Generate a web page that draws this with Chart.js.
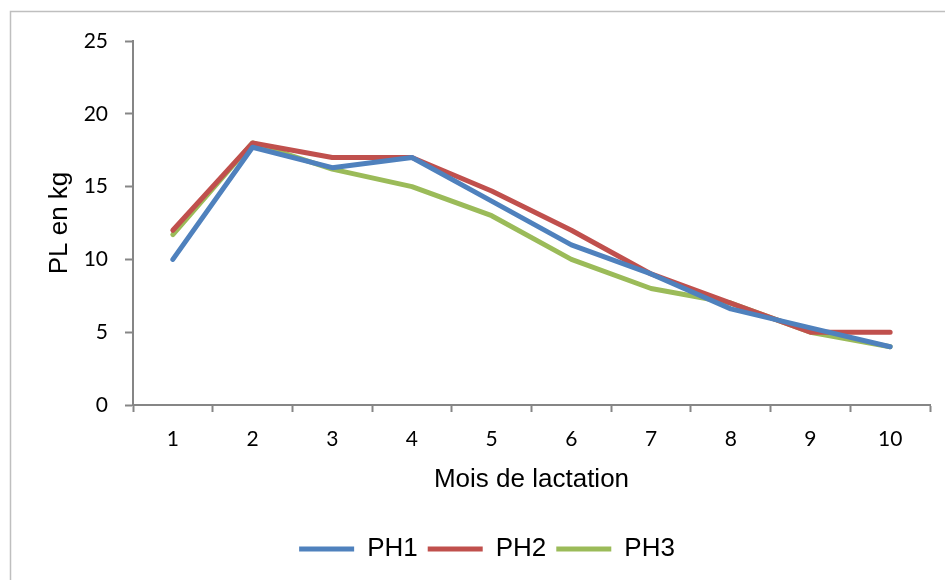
<!DOCTYPE html>
<html>
<head>
<meta charset="utf-8">
<script src="https://cdn.jsdelivr.net/npm/chart.js@4/dist/chart.umd.min.js"></script>
<style>
  html, body { margin: 0; padding: 0; background: #ffffff; }
  #wrap { width: 945px; height: 580px; position: relative; }
</style>
</head>
<body>
<div id="wrap"><canvas id="c" width="945" height="580"></canvas></div>
<script>
// Data
const categories = ['1', '2', '3', '4', '5', '6', '7', '8', '9', '10'];
const seriesNames = ['PH1', 'PH2', 'PH3'];
const ph1 = [10, 17.7, 16.3, 17, 14, 11, 9, 6.6, 5.3, 4];
const ph2 = [12, 18, 17, 17, 14.7, 12, 9, 7, 5, 5];
const ph3 = [11.7, 18, 16.2, 15, 13, 10, 8, 7, 5, 4];
const colors = ['#4F81BD', '#C0504D', '#9BBB59'];
const yMin = 0, yMax = 25, yStep = 5;

const outerBorder = {
  id: 'outerBorder',
  beforeDraw(chart) {
    const ctx = chart.ctx;
    ctx.save();
    ctx.fillStyle = '#ffffff';
    ctx.fillRect(0, 0, chart.width, chart.height);
    ctx.strokeStyle = '#bfbfbf';
    ctx.lineWidth = 1.5;
    ctx.strokeRect(10.5, 11.5, 1200, 1200);
    ctx.restore();
  }
};

// nudge the legend box to the right, as in the reference
const legendShift = {
  id: 'legendShift',
  afterLayout(chart) {
    if (chart.legend) {
      chart.legend.left += 12;
      chart.legend.right += 12;
    }
  }
};

function ds(label, data, color) {
  return {
    label: label,
    data: data,
    borderColor: color,
    backgroundColor: color,
    borderWidth: 5,
    borderCapStyle: 'round',
    borderJoinStyle: 'round',
    pointRadius: 0,
    pointHoverRadius: 0,
    tension: 0,
    fill: false
  };
}

const titleFont = { family: '"Liberation Sans", Arial, sans-serif', size: 26 };
const tickFont = { family: 'Lato, "Open Sans", sans-serif', size: 21 };

new Chart(document.getElementById('c'), {
  type: 'line',
  data: {
    labels: categories,
    datasets: [
      ds(seriesNames[0], ph1, colors[0]),
      ds(seriesNames[1], ph2, colors[1]),
      ds(seriesNames[2], ph3, colors[2])
    ]
  },
  options: {
    responsive: false,
    animation: false,
    devicePixelRatio: 1,
    layout: { padding: { top: 41, left: 20, right: 15, bottom: 8 } },
    plugins: {
      tooltip: { enabled: false },
      legend: {
        position: 'bottom',
        labels: {
          usePointStyle: true,
          pointStyle: 'line',
          pointStyleWidth: 55,
          boxHeight: 5,
          padding: 10,
          color: '#000000',
          font: titleFont
        }
      }
    },
    scales: {
      x: {
        type: 'category',
        offset: true,
        grid: {
          offset: true,
          drawOnChartArea: false,
          drawTicks: true,
          tickLength: 7,
          tickColor: '#868686',
          tickWidth: 2
        },
        border: { display: true, color: '#868686', width: 2 },
        ticks: {
          color: '#000000',
          padding: 15,
          maxRotation: 0,
          font: tickFont
        },
        title: {
          display: true,
          text: 'Mois de lactation',
          color: '#000000',
          padding: { top: 10, bottom: 31 },
          font: titleFont
        },
        afterFit(scale) { scale.height = 121; }
      },
      y: {
        min: yMin,
        max: yMax,
        grid: {
          drawOnChartArea: false,
          drawTicks: true,
          tickLength: 8,
          tickColor: '#868686',
          tickWidth: 2
        },
        border: { display: true, color: '#868686', width: 2 },
        ticks: {
          stepSize: yStep,
          color: '#000000',
          padding: 17,
          font: tickFont
        },
        title: {
          display: true,
          text: 'PL en kg',
          color: '#000000',
          padding: { top: 24, bottom: 0 },
          font: titleFont
        },
        afterFit(scale) { scale.width = 113; }
      }
    }
  },
  plugins: [outerBorder, legendShift]
});
</script>
</body>
</html>
